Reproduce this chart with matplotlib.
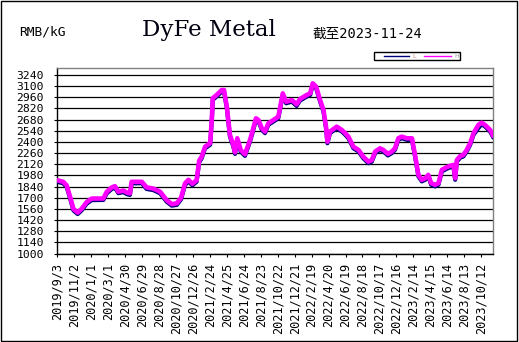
import matplotlib
matplotlib.use("Agg")
import matplotlib.pyplot as plt
from matplotlib.patches import Rectangle
from matplotlib.lines import Line2D
import pandas as pd

# ---------------- data ----------------
dates = [
    "2019-09-03", "2019-09-24", "2019-10-06", "2019-10-18", "2019-10-30", "2019-11-14", "2019-11-28", "2019-12-16",
    "2020-01-03", "2020-02-13", "2020-02-25", "2020-03-14", "2020-03-25", "2020-04-06", "2020-04-24", "2020-05-06",
    "2020-05-17", "2020-05-23", "2020-06-28", "2020-07-15", "2020-08-08", "2020-09-01", "2020-09-24", "2020-10-12",
    "2020-10-30", "2020-11-14", "2020-11-28", "2020-12-10", "2020-12-24",
    "2021-01-08", "2021-01-17", "2021-01-26", "2021-02-07", "2021-02-25", "2021-03-03", "2021-03-06", "2021-03-20",
    "2021-04-07", "2021-04-15", "2021-04-25", "2021-05-06", "2021-05-18", "2021-05-24", "2021-06-01", "2021-06-13",
    "2021-06-28", "2021-07-16", "2021-07-26", "2021-08-06", "2021-08-15", "2021-08-27", "2021-09-07", "2021-09-19",
    "2021-10-07", "2021-10-24", "2021-10-30", "2021-11-09", "2021-11-21", "2021-12-11", "2021-12-28",
    "2022-01-09", "2022-02-02", "2022-02-14", "2022-02-23", "2022-03-07", "2022-03-21", "2022-04-02", "2022-04-11",
    "2022-04-16", "2022-04-25", "2022-05-19", "2022-06-06", "2022-06-18", "2022-06-29", "2022-07-17", "2022-08-04",
    "2022-08-21", "2022-09-08", "2022-09-20", "2022-10-02", "2022-10-19", "2022-10-31", "2022-11-16", "2022-11-30",
    "2022-12-11", "2022-12-23",
    "2023-01-04", "2023-01-22", "2023-02-09", "2023-02-20", "2023-03-04", "2023-03-16", "2023-03-28", "2023-04-08",
    "2023-04-18", "2023-05-02", "2023-05-14", "2023-05-26", "2023-06-12", "2023-06-24", "2023-07-06", "2023-07-12",
    "2023-07-18", "2023-07-30", "2023-08-10", "2023-08-22", "2023-09-03", "2023-09-15", "2023-10-02", "2023-10-14",
    "2023-10-26", "2023-11-13", "2023-11-24",
]

high = [
    1920, 1900, 1855, 1715, 1560, 1515, 1560, 1645,
    1690, 1690, 1775, 1830, 1845, 1775, 1790, 1765, 1755, 1900, 1900, 1830, 1815, 1775, 1670, 1620, 1630, 1700,
    1880, 1925, 1875,
    1920, 2165, 2215, 2340, 2385, 2697, 2948, 2990, 3052, 3052, 2843, 2487, 2362, 2270, 2446, 2300, 2245, 2425,
    2550, 2697, 2676, 2571, 2530, 2635, 2676, 2717, 2822, 3010, 2905, 2926, 2872,
    2939, 2990, 3010, 3136, 3094, 2926, 2800, 2592, 2404, 2530, 2592, 2550, 2510, 2467, 2340, 2300, 2215, 2152,
    2173, 2280, 2320, 2300, 2250, 2280, 2320, 2446,
    2467, 2446, 2446, 2237, 1987, 1925, 1945, 1987, 1883, 1862, 1883, 2050, 2083, 2100, 2112, 1945, 2173, 2223,
    2237, 2300, 2384, 2509, 2613, 2642, 2613, 2550, 2475,
]

low = [
    1900, 1880, 1835, 1695, 1540, 1495, 1540, 1625,
    1670, 1672, 1755, 1810, 1825, 1757, 1770, 1745, 1735, 1880, 1882, 1810, 1795, 1755, 1650, 1600, 1610, 1680,
    1860, 1905, 1855,
    1900, 2145, 2195, 2320, 2365, 2677, 2928, 2970, 3032, 3030, 2823, 2467, 2342, 2250, 2426, 2280, 2225, 2405,
    2530, 2677, 2656, 2551, 2510, 2615, 2656, 2697, 2802, 2990, 2885, 2906, 2852,
    2919, 2970, 2990, 3116, 3074, 2906, 2780, 2572, 2384, 2510, 2572, 2530, 2490, 2447, 2320, 2280, 2195, 2132,
    2153, 2260, 2300, 2280, 2230, 2260, 2300, 2426,
    2447, 2426, 2426, 2217, 1967, 1905, 1925, 1967, 1863, 1842, 1863, 2030, 2063, 2080, 2092, 1925, 2153, 2203,
    2217, 2280, 2364, 2489, 2573, 2622, 2593, 2530, 2455,
]

y_ticks = list(range(1000, 3241, 140))
x_tick_start = "2019-09-03"
x_tick_step_days = 60
x_tick_count = 26
x_end = "2023-11-24"

series_labels = ["L", "H"]
title = "DyFe Metal"
unit = "RMB/kG"
asof = "截至2023-11-24"

# ---------------- figure ----------------
W, Hh = 519, 342
fig = plt.figure(figsize=(W / 100, Hh / 100), dpi=100)
fig.patch.set_facecolor("white")


def fx(x):
    return x / W


def fy(y):
    return 1 - y / Hh


mono = ["DejaVu Sans Mono", "Noto Sans CJK SC"]

ax = fig.add_axes([fx(57.3), fy(253.5), fx(493.3) - fx(57.3), fy(67.7) - fy(253.5)])

d = pd.to_datetime(dates)
ax.plot(d, low, color="#000080", lw=3.0, solid_capstyle="round", solid_joinstyle="round", zorder=3)
ax.plot(d, high, color="#FF00FF", lw=3.3, solid_capstyle="round", solid_joinstyle="round", zorder=4)

ax.set_xlim(pd.Timestamp(x_tick_start), pd.Timestamp(x_end))
ax.set_ylim(1000, 3332)

xt = [pd.Timestamp(x_tick_start) + pd.Timedelta(days=x_tick_step_days * k) for k in range(x_tick_count)]
ax.set_xticks(xt)
ax.set_xticklabels([f"{t.year}/{t.month}/{t.day}" for t in xt], rotation=90,
                   family=mono, fontsize=8.6)
ax.set_yticks(y_ticks)
ax.set_yticklabels([str(v) for v in y_ticks], family=mono, fontsize=8.2)

ax.tick_params(axis="x", direction="out", length=2.3, width=0.8, pad=4.5, color="black")
ax.tick_params(axis="y", direction="out", length=2.3, width=0.8, pad=7.5, color="black")

ax.grid(axis="y", color="black", lw=0.9, zorder=1)
ax.set_axisbelow(True)
for s in ["top", "right"]:
    ax.spines[s].set_color("#808080")
    ax.spines[s].set_linewidth(1.0)
for s in ["left", "bottom"]:
    ax.spines[s].set_color("black")
    ax.spines[s].set_linewidth(1.0)

# ---------------- texts ----------------
fig.text(fx(209), fy(30), title, ha="center", va="center", family="DejaVu Serif",
         fontsize=16.5, color="#000010")
fig.text(fx(19), fy(32), unit, ha="left", va="center", family=mono, fontsize=9.3, color="black")
fig.text(fx(313), fy(34), asof, ha="left", va="center", family=mono, fontsize=9.8, color="black")

# ---------------- legend box ----------------
fig.patches.append(Rectangle((fx(374), fy(60.3)), fx(460) - fx(374), fy(52.3) - fy(60.3),
                             transform=fig.transFigure, fill=False, ec="black", lw=1.0))
fig.lines.append(Line2D([fx(384), fx(409)], [fy(56.3), fy(56.3)], transform=fig.transFigure,
                        color="#000080", lw=1.0))
fig.lines.append(Line2D([fx(424), fx(451)], [fy(56.3), fy(56.3)], transform=fig.transFigure,
                        color="#FF00FF", lw=1.0))
fig.text(fx(412), fy(56.5), series_labels[0], ha="left", va="center", fontsize=4.5, color="#d08090")
fig.text(fx(454), fy(56.5), series_labels[1], ha="left", va="center", fontsize=4.5, color="#90a0a0")

# outer border
fig.patches.append(Rectangle((fx(1), fy(340.5)), fx(516.5) - fx(1), fy(1) - fy(340.5),
                             transform=fig.transFigure, fill=False, ec="black", lw=1.0))

fig.savefig("out.png", dpi=100)
